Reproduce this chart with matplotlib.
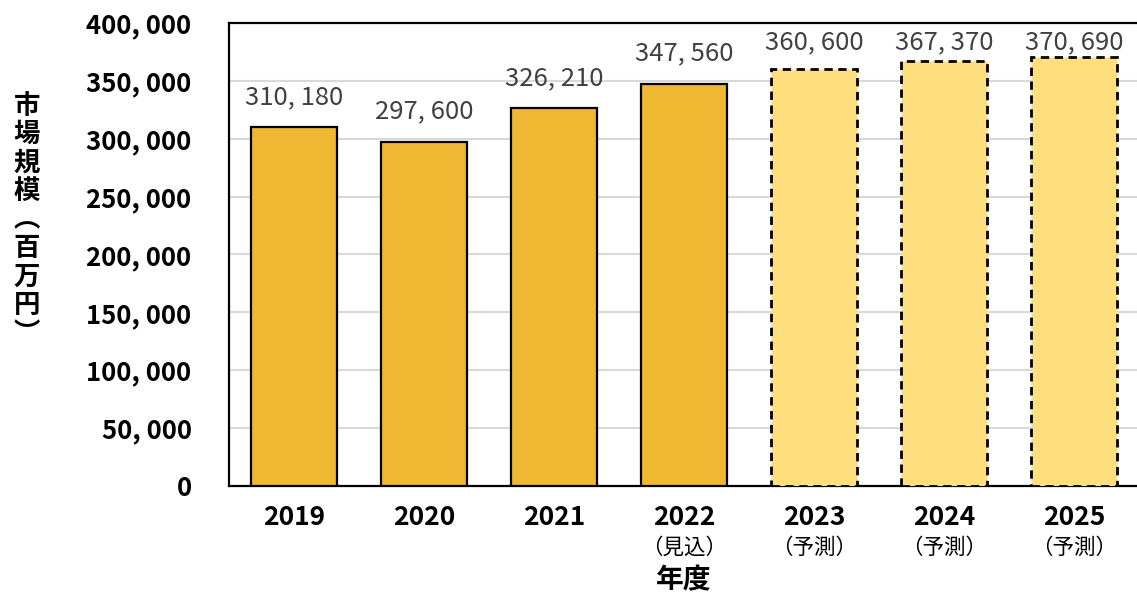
import matplotlib
matplotlib.use("Agg")
import matplotlib.pyplot as plt
from matplotlib.transforms import blended_transform_factory

plt.rcParams['font.family'] = ['Noto Sans CJK JP', 'DejaVu Sans']

years = ["2019", "2020", "2021", "2022", "2023", "2024", "2025"]
sub_labels = ["", "", "", "（見込）", "（予測）", "（予測）", "（予測）"]
values = [310180, 297600, 326210, 347560, 360600, 367370, 370690]
projected = [False, False, False, False, True, True, True]
yticks = [0, 50000, 100000, 150000, 200000, 250000, 300000, 350000, 400000]
ylabel = "市場規模（百万円）"
xlabel = "年度"

solid_color = "#F0B732"
proj_color = "#FFDF7D"

W, H = 1137, 597
fig = plt.figure(figsize=(W / 100, H / 100), dpi=100)
ax = fig.add_axes([229 / W, (H - 486) / H, (1139 - 229) / W, (486 - 23) / H])

label_gap = 26000    # label centre above bar top (data units)
label_cap = 383000   # keep labels under the top frame

x = list(range(len(years)))
for xi, v, p in zip(x, values, projected):
    if p:
        ax.bar(xi, v, width=0.655, color=proj_color, edgecolor="black",
               linewidth=2.0, linestyle=(0, (3, 2)), zorder=3)
    else:
        ax.bar(xi, v, width=0.655, color=solid_color, edgecolor="black",
               linewidth=1.6, zorder=3)
    ax.text(xi, min(v + label_gap, label_cap), f"{v:,}".replace(",", ", "),
            ha="center", va="center", fontsize=18.5, color="#404040",
            zorder=4)

ax.set_xlim(-0.5, 6.5)
ax.set_ylim(0, 400000)
ax.set_yticks(yticks)
ax.set_yticklabels([f"{t:,}".replace(",", ", ") for t in yticks],
                   fontsize=18.5, fontweight="bold")
ax.set_xticks(x)
ax.set_xticklabels(years, fontsize=19, fontweight="bold")
ax.tick_params(axis="y", length=0, pad=27)
ax.tick_params(axis="x", length=0, pad=13)

ax.grid(axis="y", color="#d9d9d9", linewidth=1.5, zorder=0)
ax.set_axisbelow(True)
for s in ["left", "top", "bottom"]:
    ax.spines[s].set_color("black")
    ax.spines[s].set_linewidth(1.6)
ax.spines["right"].set_visible(False)

trans = blended_transform_factory(ax.transData, fig.transFigure)
for xi, s in zip(x, sub_labels):
    if s:
        ax.text(xi, (H - 548) / H, s, transform=trans, ha="center",
                va="center", fontsize=15.5, color="black")

fig.text((229 + 1139) / 2 / W, (H - 580) / H, xlabel, ha="center",
         va="center", fontsize=20, fontweight="bold")

vert = "\n".join(ylabel.replace("（", "︵").replace("）", "︶"))
fig.text(27 / W, (H - 220) / H, vert, ha="center", va="center",
         fontsize=19, fontweight="bold", linespacing=1.07)

fig.savefig("out.png", dpi=100)
